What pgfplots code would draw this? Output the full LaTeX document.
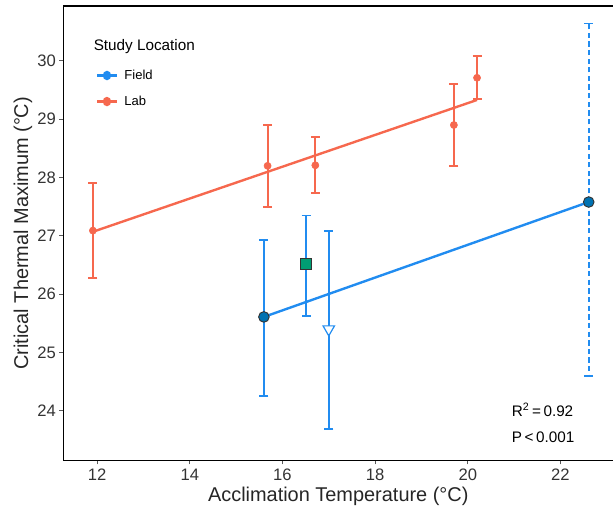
\documentclass[border=0pt]{standalone}
\usepackage{fontspec}
\setmainfont{Liberation Sans}
\usepackage{pgfplots}
\pgfplotsset{compat=1.18}

\definecolor{labC}{RGB}{246,104,78}
\definecolor{fieldC}{RGB}{33,140,240}
\definecolor{darkblue}{RGB}{0,114,178}
\definecolor{teal}{RGB}{0,158,115}

\begin{document}
\begin{tikzpicture}
\begin{axis}[
    scale only axis,
    width=414pt, height=342pt,
    xmin=11.27, xmax=23.14, ymin=23.15, ymax=30.94,
    xtick={12,14,...,22}, ytick={24,25,...,30},
    axis lines*=left,
    axis line style={line width=1.1pt, black},
    tick style={gray!70!black, line width=0.6pt},
    tick align=outside, major tick length=3pt,
    tick label style={font=\fontsize{12.5}{14}\selectfont, text=black!80},
    yticklabel style={xshift=1pt},
    /pgf/number format/assume math mode=true,
    xlabel={Acclimation Temperature (°C)},
    ylabel={Critical Thermal Maximum (°C)},
    label style={font=\fontsize{15}{17}\selectfont, text=black!85},
    xlabel style={yshift=2pt},
    ylabel style={yshift=-3pt},
    clip=false,
    legend style={at={(rel axis cs:0.052,0.872)}, anchor=north west, draw=none,
        font=\fontsize{9.8}{11}\selectfont, row sep=7pt, fill=none},
    legend cell align=left,
    legend image post style={xscale=0.85},
]
\draw[line width=1.1pt] (rel axis cs:0,1) -- (rel axis cs:1,1);

% Field error bars (drawn first, below the lines)
\addplot[fieldC, line width=1.4pt, only marks, mark=none, forget plot,
    error bars/.cd, y dir=both, y explicit,
    error bar style={line width=1.4pt, draw=fieldC},
    error mark options={rotate=90, mark size=3.4pt, line width=1.4pt, draw=fieldC}]
  coordinates {
    (15.60,25.61) += (0,1.32) -= (0,1.35)
    (16.51,26.52) += (0,0.83) -= (0,0.89)
    (17.00,25.40) += (0,1.69) -= (0,1.71)
  };
\addplot[fieldC, only marks, mark=none, forget plot,
    error bars/.cd, y dir=both, y explicit,
    error bar style={line width=1.4pt, draw=fieldC, dash pattern=on 4pt off 2.5pt},
    error mark options={rotate=90, mark size=3.4pt, line width=1.4pt, draw=fieldC, solid}]
  coordinates {(22.61,27.58) += (0,3.06) -= (0,2.98)};

% regression lines
\addplot[labC, line width=1.8pt, forget plot] coordinates {(11.91,27.07) (20.2,29.33)};
\addplot[fieldC, line width=1.8pt, forget plot] coordinates {(15.60,25.61) (22.61,27.58)};

% Lab points with error bars
\addplot[labC, only marks, mark=*, mark size=2.7pt, forget plot,
    error bars/.cd, y dir=both, y explicit,
    error bar style={line width=1.4pt, draw=labC},
    error mark options={rotate=90, mark size=3.4pt, line width=1.4pt, draw=labC}]
  coordinates {
    (11.91,27.09) +- (0,0.81)
    (15.68,28.20) +- (0,0.70)
    (16.71,28.21) +- (0,0.48)
    (19.70,28.90) +- (0,0.70)
    (20.20,29.71) +- (0,0.37)
  };

% Field point markers
\addplot[only marks, mark=*, mark size=4pt,
    mark options={fill=darkblue, draw=black!80, line width=0.7pt}, forget plot]
  coordinates {(15.60,25.61) (22.61,27.58)};
\addplot[only marks, mark=square*, mark size=4pt,
    mark options={fill=teal, draw=black!80, line width=0.7pt}, forget plot]
  coordinates {(16.51,26.52)};
\addplot[only marks, mark=triangle*, mark size=5pt,
    mark options={rotate=180, fill=white, draw=fieldC, line width=0.9pt}, forget plot]
  coordinates {(17.00,25.40)};

% legend
\addlegendimage{fieldC, line width=1.8pt, mark=*, mark size=2.6pt}
\addlegendentry{\hspace{3pt}Field}
\addlegendimage{labC, line width=1.8pt, mark=*, mark size=2.6pt}
\addlegendentry{\hspace{3pt}Lab}

\node[anchor=west, font=\fontsize{11.5}{13}\selectfont] at (rel axis cs:0.047,0.91) {Study Location};

\node[anchor=west, font=\fontsize{11.5}{13}\selectfont] at (axis cs:20.85,24.02) {R\textsuperscript{2}\,=\,0.92};
\node[anchor=west, font=\fontsize{11.5}{13}\selectfont] at (axis cs:20.85,23.54) {P\,<\,0.001};
\end{axis}
\path ([xshift=-7pt,yshift=4pt]current bounding box.north west);
\end{tikzpicture}
\end{document}
